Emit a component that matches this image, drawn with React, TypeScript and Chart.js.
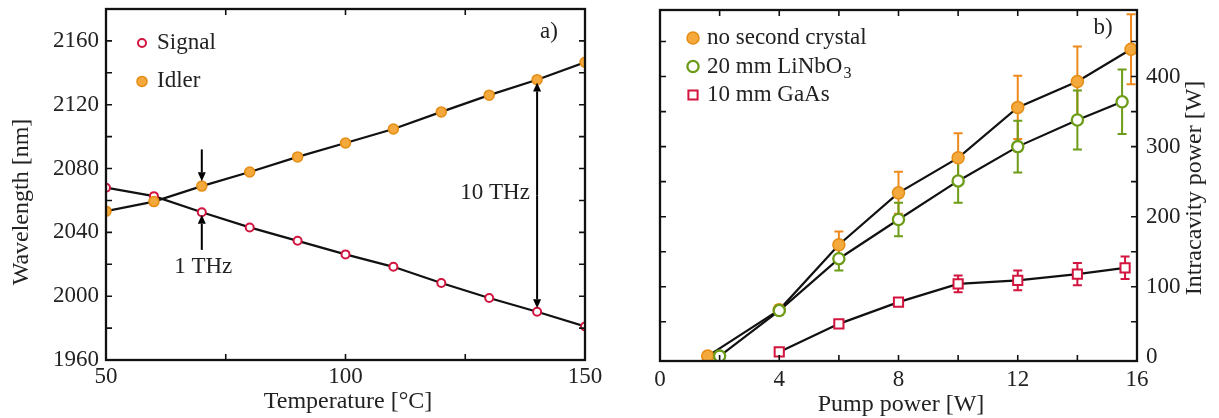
import React, { useEffect, useRef } from 'react';
import { Chart, registerables } from 'chart.js';

Chart.register(...registerables);

const FONT_FAMILY = '"Liberation Serif", "Times New Roman", serif';
const FONT_SIZE = 23;
const TITLE_SIZE = 24;
const TEXT_COLOR = '#222';
const AXIS_COLOR = '#111';
const LINE_COLOR = '#111';

const ORANGE_FILL = '#F4A93C';
const ORANGE_EDGE = '#E58C14';
const ORANGE_ERR = '#EE8A1C';
const GREEN = '#6C9C18';
const RED = '#D2143E';

// ---------- Panel a) data ----------
const temperatureC = [50, 60, 70, 80, 90, 100, 110, 120, 130, 140, 150];
const signalNm = [2068, 2062.7, 2052.6, 2043.1, 2034.7, 2026.2, 2018.4, 2008.3, 1998.9, 1990.2, 1981];
const idlerNm = [2053.3, 2059.3, 2069, 2077.8, 2087.3, 2096, 2104.8, 2115.5, 2126, 2135.7, 2146.6];
const temperatureLabels = [50, 100, 150];
const wavelengthLabels = [1960, 2000, 2040, 2080, 2120, 2160];
const temperatureMarks = [75, 100, 125];
const wavelengthMarks = [1980, 2000, 2020, 2040, 2060, 2080, 2100, 2120, 2140, 2160];
const seriesNamesA = ['Signal', 'Idler'];

// annotation values (data units)
const oneTHz = { x: 70, downFrom: 2092, downTo: 2072, upFrom: 2029, upTo: 2051, labelX: 70.3, labelY: 2018.5, text: '1 THz' };
const tenTHz = { x: 140, top: 2134, bottom: 1992.5, labelX: 138.5, labelY: 2065, text: '10 THz' };

// ---------- Panel b) data ----------
const pumpNoCrystalW = [1.6, 4, 6, 8, 10, 12, 14, 15.8];
const powerNoCrystalW = [1, 67, 160, 234, 284, 356, 393, 439];
const errNoCrystalW = [0, 7, 19, 30, 35, 45, 50, 50];
const pumpLiNbO3W = [2, 4, 6, 8, 10, 12, 14, 15.5];
const powerLiNbO3W = [1, 66, 140, 196, 251, 300, 338, 364];
const errLiNbO3W = [0, 3, 17, 24, 31, 37, 42, 46];
const pumpGaAsW = [4, 6, 8, 10, 12, 14, 15.6];
const powerGaAsW = [7, 47, 78, 104, 109, 118, 127];
const errGaAsW = [2, 3, 5, 12, 14, 16, 16];
const pumpLabels = [0, 4, 8, 12, 16];
const powerLabels = [0, 100, 200, 300, 400];
const pumpMarks = [2, 4, 6, 8, 10, 12, 14];
const powerMarks = [50, 100, 150, 200, 250, 300, 350, 400, 450];
const seriesNamesB = [
  { text: 'no second crystal' },
  { text: '20 mm LiNbO', sub: '3' },
  { text: '10 mm GaAs' },
];

const font = (size = FONT_SIZE) => `${size}px ${FONT_FAMILY}`;

function drawMarker(ctx: CanvasRenderingContext2D, ds: any, x: number, y: number) {
  const r = ds.pointRadius;
  ctx.save();
  ctx.fillStyle = ds.pointBackgroundColor;
  ctx.strokeStyle = ds.pointBorderColor;
  ctx.lineWidth = ds.pointBorderWidth;
  ctx.beginPath();
  if (ds.pointStyle === 'rect') {
    const s = Math.SQRT1_2 * r;
    ctx.rect(x - s, y - s, 2 * s, 2 * s);
  } else {
    ctx.arc(x, y, r, 0, Math.PI * 2);
  }
  ctx.fill();
  ctx.stroke();
  ctx.restore();
}

const frameTicksPlugin = (xMarks: number[], yMarks: number[]) => ({
  id: 'frameTicks',
  afterDraw(chart: any) {
    const { ctx, chartArea: a } = chart;
    const xs = chart.scales.x;
    const ys = chart.scales.y;
    const len = 6;
    ctx.save();
    ctx.strokeStyle = AXIS_COLOR;
    ctx.lineWidth = 1.6;
    ctx.beginPath();
    xMarks.forEach((v) => {
      const p = xs.getPixelForValue(v);
      ctx.moveTo(p, a.bottom);
      ctx.lineTo(p, a.bottom - len);
      ctx.moveTo(p, a.top);
      ctx.lineTo(p, a.top + len);
    });
    yMarks.forEach((v) => {
      const p = ys.getPixelForValue(v);
      ctx.moveTo(a.left, p);
      ctx.lineTo(a.left + len, p);
      ctx.moveTo(a.right, p);
      ctx.lineTo(a.right - len, p);
    });
    ctx.stroke();
    ctx.lineWidth = 2.3;
    ctx.strokeRect(a.left, a.top, a.right - a.left, a.bottom - a.top);
    ctx.restore();
  },
});

const legendPlugin = (entries: { text: string; sub?: string }[], dx: number, dy: number, gap: number, textDx: number) => ({
  id: 'insetLegend',
  afterDraw(chart: any) {
    const { ctx, chartArea: a } = chart;
    entries.forEach((e, i) => {
      const ds = chart.data.datasets[i];
      const y = a.top + dy + i * gap;
      drawMarker(ctx, ds, a.left + dx, y);
      ctx.save();
      ctx.font = font();
      ctx.fillStyle = TEXT_COLOR;
      ctx.textAlign = 'left';
      ctx.textBaseline = 'middle';
      ctx.fillText(e.text, a.left + textDx, y);
      if (e.sub) {
        const w = ctx.measureText(e.text).width;
        ctx.font = font(16);
        ctx.fillText(e.sub, a.left + textDx + w + 1, y + 7);
      }
      ctx.restore();
    });
  },
});

const titlesPlugin = (cfg: {
  xTitle: string; xdx: number; xdy: number;
  yTitle: string; yx: (a: any) => number; ydy: number;
  panel: string; pdx: number; pdy: number;
}) => ({
  id: 'titles',
  afterDraw(chart: any) {
    const { ctx, chartArea: a } = chart;
    ctx.save();
    ctx.fillStyle = TEXT_COLOR;
    ctx.textAlign = 'center';
    ctx.textBaseline = 'middle';
    ctx.font = font();
    ctx.fillText(cfg.panel, a.right + cfg.pdx, a.top + cfg.pdy);
    ctx.font = font(TITLE_SIZE);
    ctx.fillText(cfg.xTitle, (a.left + a.right) / 2 + cfg.xdx, a.bottom + cfg.xdy);
    ctx.translate(cfg.yx(a), (a.top + a.bottom) / 2 + cfg.ydy);
    ctx.rotate(-Math.PI / 2);
    ctx.fillText(cfg.yTitle, 0, 0);
    ctx.restore();
  },
});

const errorBarPlugin = {
  id: 'errorBars',
  beforeDatasetsDraw(chart: any) {
    const { ctx } = chart;
    const xs = chart.scales.x;
    const ys = chart.scales.y;
    chart.data.datasets.forEach((ds: any) => {
      if (!ds.errorBars) return;
      ctx.save();
      ctx.strokeStyle = ds.errorBarColor;
      ctx.lineWidth = 2;
      ctx.beginPath();
      ds.data.forEach((pt: any, j: number) => {
        const e = ds.errorBars[j];
        if (!e) return;
        const px = xs.getPixelForValue(pt.x);
        const top = ys.getPixelForValue(pt.y + e);
        const bot = ys.getPixelForValue(pt.y - e);
        ctx.moveTo(px, top);
        ctx.lineTo(px, bot);
        ctx.moveTo(px - 4.5, top);
        ctx.lineTo(px + 4.5, top);
        ctx.moveTo(px - 4.5, bot);
        ctx.lineTo(px + 4.5, bot);
      });
      ctx.stroke();
      ctx.restore();
    });
  },
};

function arrow(ctx: CanvasRenderingContext2D, x: number, y0: number, y1: number) {
  const dir = y1 > y0 ? 1 : -1;
  const head = 9;
  ctx.beginPath();
  ctx.moveTo(x, y0);
  ctx.lineTo(x, y1 - dir * head);
  ctx.stroke();
  ctx.beginPath();
  ctx.moveTo(x, y1);
  ctx.lineTo(x - 4, y1 - dir * head);
  ctx.lineTo(x + 4, y1 - dir * head);
  ctx.closePath();
  ctx.fill();
}

const annotationPlugin = {
  id: 'thzAnnotations',
  afterDatasetsDraw(chart: any) {
    const { ctx } = chart;
    const xs = chart.scales.x;
    const ys = chart.scales.y;
    ctx.save();
    ctx.strokeStyle = '#000';
    ctx.fillStyle = '#000';
    ctx.lineWidth = 2;
    const x1 = xs.getPixelForValue(oneTHz.x);
    arrow(ctx, x1, ys.getPixelForValue(oneTHz.downFrom), ys.getPixelForValue(oneTHz.downTo));
    arrow(ctx, x1, ys.getPixelForValue(oneTHz.upFrom), ys.getPixelForValue(oneTHz.upTo));
    const x2 = xs.getPixelForValue(tenTHz.x);
    const yt = ys.getPixelForValue(tenTHz.top);
    const yb = ys.getPixelForValue(tenTHz.bottom);
    const ym = (yt + yb) / 2;
    arrow(ctx, x2, ym, yt);
    arrow(ctx, x2, ym, yb);
    ctx.font = font();
    ctx.fillStyle = TEXT_COLOR;
    ctx.textBaseline = 'middle';
    ctx.textAlign = 'center';
    ctx.fillText(oneTHz.text, xs.getPixelForValue(oneTHz.labelX), ys.getPixelForValue(oneTHz.labelY));
    ctx.textAlign = 'right';
    ctx.fillText(tenTHz.text, xs.getPixelForValue(tenTHz.labelX), ys.getPixelForValue(tenTHz.labelY));
    ctx.restore();
  },
};

const tickFont = { family: FONT_FAMILY, size: FONT_SIZE };
const points = (xs: number[], ys: number[]) => xs.map((x, i) => ({ x, y: ys[i] }));

function leftConfig(): any {
  return {
    type: 'line',
    data: {
      datasets: [
        {
          label: seriesNamesA[0],
          data: points(temperatureC, signalNm),
          borderColor: LINE_COLOR,
          borderWidth: 2.2,
          pointStyle: 'circle',
          pointRadius: 4,
          pointBorderWidth: 2,
          pointBackgroundColor: '#fff',
          pointBorderColor: RED,
          order: 1,
        },
        {
          label: seriesNamesA[1],
          data: points(temperatureC, idlerNm),
          borderColor: LINE_COLOR,
          borderWidth: 2.2,
          pointStyle: 'circle',
          pointRadius: 5,
          pointBorderWidth: 1.5,
          pointBackgroundColor: ORANGE_FILL,
          pointBorderColor: ORANGE_EDGE,
          order: 0,
        },
      ],
    },
    options: {
      responsive: false,
      animation: false,
      events: [],
      layout: { padding: { left: 0, right: 55, top: 30, bottom: 0 } },
      plugins: { legend: { display: false }, tooltip: { enabled: false } },
      scales: {
        x: {
          type: 'linear',
          min: 50,
          max: 150,
          grid: { display: false, drawTicks: false },
          border: { display: false },
          afterBuildTicks: (s: any) => { s.ticks = temperatureLabels.map((v) => ({ value: v })); },
          ticks: { font: tickFont, color: TEXT_COLOR, padding: 3, maxRotation: 0, autoSkip: false, callback: (v: any) => String(v) },
          afterFit: (s: any) => { s.height = 58; },
        },
        y: {
          type: 'linear',
          min: 1960,
          max: 2180,
          grid: { display: false, drawTicks: false },
          border: { display: false },
          afterBuildTicks: (s: any) => { s.ticks = wavelengthLabels.map((v) => ({ value: v })); },
          ticks: { font: tickFont, color: TEXT_COLOR, padding: 7, autoSkip: false, callback: (v: any) => String(v) },
          afterFit: (s: any) => { s.width = 106; },
        },
      },
    },
    plugins: [
      annotationPlugin,
      frameTicksPlugin(temperatureMarks, wavelengthMarks),
      legendPlugin(seriesNamesA.map((t) => ({ text: t })), 36, 34, 38.4, 51),
      titlesPlugin({
        xTitle: 'Temperature [°C]', xdx: 2.5, xdy: 42,
        yTitle: 'Wavelength [nm]', yx: (a) => a.left - 84, ydy: 17.5,
        panel: 'a)', pdx: -36, pdy: 23,
      }),
    ],
  };
}

function rightConfig(): any {
  return {
    type: 'line',
    data: {
      datasets: [
        {
          label: 'no second crystal',
          data: points(pumpNoCrystalW, powerNoCrystalW),
          errorBars: errNoCrystalW,
          errorBarColor: ORANGE_ERR,
          borderColor: LINE_COLOR,
          borderWidth: 2.2,
          pointStyle: 'circle',
          pointRadius: 6,
          pointBorderWidth: 1.5,
          pointBackgroundColor: ORANGE_FILL,
          pointBorderColor: ORANGE_EDGE,
          order: 1,
        },
        {
          label: '20 mm LiNbO3',
          data: points(pumpLiNbO3W, powerLiNbO3W),
          errorBars: errLiNbO3W,
          errorBarColor: GREEN,
          borderColor: LINE_COLOR,
          borderWidth: 2.2,
          pointStyle: 'circle',
          pointRadius: 5.6,
          pointBorderWidth: 2.3,
          pointBackgroundColor: '#fff',
          pointBorderColor: GREEN,
          order: 0,
        },
        {
          label: '10 mm GaAs',
          data: points(pumpGaAsW, powerGaAsW),
          errorBars: errGaAsW,
          errorBarColor: RED,
          borderColor: LINE_COLOR,
          borderWidth: 2.2,
          pointStyle: 'rect',
          pointRadius: 6.5,
          pointBorderWidth: 2,
          pointBackgroundColor: '#fff',
          pointBorderColor: RED,
          order: 2,
        },
      ],
    },
    options: {
      responsive: false,
      animation: false,
      events: [],
      layout: { padding: { left: 100, right: 0, top: 30, bottom: 0 } },
      plugins: { legend: { display: false }, tooltip: { enabled: false } },
      scales: {
        x: {
          type: 'linear',
          min: 0,
          max: 16,
          grid: { display: false, drawTicks: false },
          border: { display: false },
          afterBuildTicks: (s: any) => { s.ticks = pumpLabels.map((v) => ({ value: v })); },
          ticks: { font: tickFont, color: TEXT_COLOR, padding: 5, maxRotation: 0, autoSkip: false, callback: (v: any) => String(v) },
          afterFit: (s: any) => { s.height = 57; },
        },
        y: {
          type: 'linear',
          position: 'right',
          min: -6,
          max: 495,
          grid: { display: false, drawTicks: false },
          border: { display: false },
          afterBuildTicks: (s: any) => { s.ticks = powerLabels.map((v) => ({ value: v })); },
          ticks: { font: tickFont, color: TEXT_COLOR, padding: 9, autoSkip: false, callback: (v: any) => String(v) },
          afterFit: (s: any) => { s.width = 82; },
        },
      },
    },
    plugins: [
      errorBarPlugin,
      frameTicksPlugin(pumpMarks, powerMarks),
      legendPlugin(seriesNamesB, 33, 28, 28.5, 47),
      titlesPlugin({
        xTitle: 'Pump power [W]', xdx: 2.5, xdy: 44,
        yTitle: 'Intracavity power [W]', yx: (a) => a.right + 58, ydy: 2.5,
        panel: 'b)', pdx: -34, pdy: 18,
      }),
    ],
  };
}

export default function App() {
  const leftRef = useRef<HTMLCanvasElement>(null);
  const rightRef = useRef<HTMLCanvasElement>(null);

  useEffect(() => {
    const c1 = new Chart(leftRef.current as HTMLCanvasElement, leftConfig());
    const c2 = new Chart(rightRef.current as HTMLCanvasElement, rightConfig());
    return () => {
      c1.destroy();
      c2.destroy();
    };
  }, []);

  return (
    <div style={{ position: 'absolute', left: 0, top: 0, width: 1219, height: 418, background: '#fff', overflow: 'hidden' }}>
      <canvas ref={leftRef} width={640} height={439} style={{ position: 'absolute', left: 0, top: -21 }} />
      <canvas ref={rightRef} width={659} height={438} style={{ position: 'absolute', left: 560, top: -20 }} />
    </div>
  );
}
